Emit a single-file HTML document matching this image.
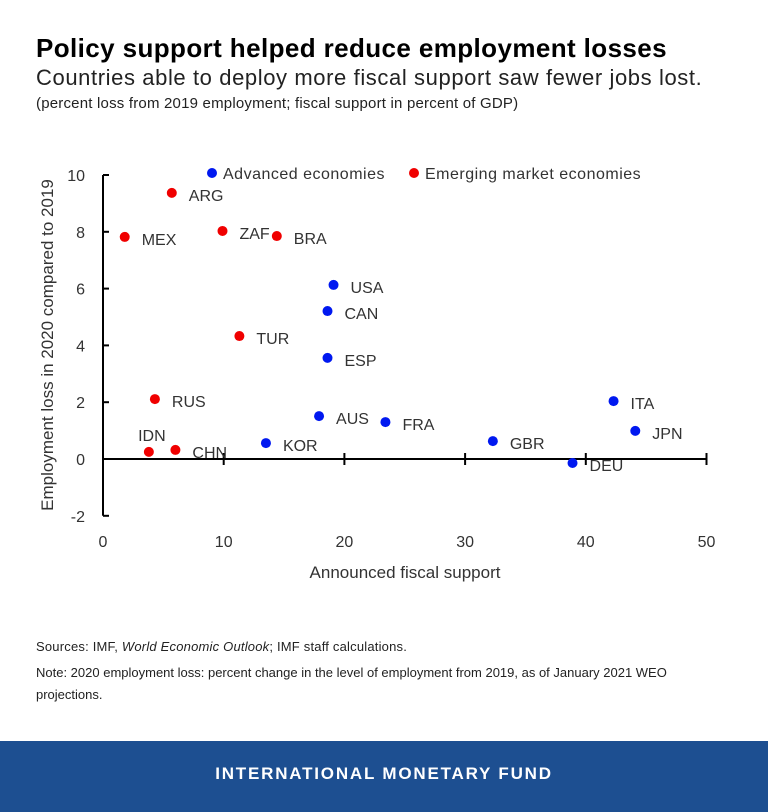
<!DOCTYPE html>
<html><head><meta charset="utf-8"><style>
body{margin:0;width:768px;height:812px;background:#fff;font-family:"Liberation Sans",sans-serif;position:relative;overflow:hidden}
.t{position:absolute;left:36px;white-space:nowrap}
</style></head><body>
<div class="t" style="top:33px;font-size:26px;font-weight:bold;color:#000;letter-spacing:0.4px">Policy support helped reduce employment losses</div>
<div class="t" style="top:65px;font-size:22px;color:#222;letter-spacing:0.6px">Countries able to deploy more fiscal support saw fewer jobs lost.</div>
<div class="t" style="top:95px;font-size:15px;color:#222;letter-spacing:0.2px">(percent loss from 2019 employment; fiscal support in percent of GDP)</div>
<svg id="chart" width="768" height="600" style="position:absolute;left:0;top:0" font-family="Liberation Sans, DejaVu Sans, sans-serif"></svg>
<div class="t" style="top:639px;font-size:13px;color:#222;letter-spacing:0.2px">Sources: IMF, <i>World Economic Outlook</i>; IMF staff calculations.</div>
<div class="t" style="top:662px;font-size:13px;color:#222;white-space:normal;width:690px;line-height:22px">Note: 2020 employment loss: percent change in the level of employment from 2019, as of January 2021 WEO projections.</div>
<div style="position:absolute;left:0;top:741px;width:768px;height:71px;background:#1d4f91;color:#fff;text-align:center;line-height:66px;font-size:17px;font-weight:bold;letter-spacing:1.8px">INTERNATIONAL MONETARY FUND</div>
<script>
const countries=["ARG","MEX","ZAF","BRA","USA","CAN","TUR","ESP","RUS","AUS","FRA","ITA","JPN","IDN","CHN","KOR","GBR","DEU"];
const fiscal=[5.7,1.8,9.9,14.4,19.1,18.6,11.3,18.6,4.3,17.9,23.4,42.3,44.1,3.8,6.0,13.5,32.3,38.9];
const loss=[9.37,7.82,8.03,7.85,6.13,5.21,4.33,3.56,2.11,1.51,1.30,2.04,0.99,0.25,0.32,0.56,0.63,-0.14];
const group=["EM","EM","EM","EM","AE","AE","EM","AE","EM","AE","AE","AE","AE","EM","EM","AE","AE","AE"];
const xTicks=[0,10,20,30,40,50];
const yTicks=[10,8,6,4,2,0,-2];
const svg=document.getElementById('chart');const NS="http://www.w3.org/2000/svg";
const X=v=>103+v*12.07, Y=v=>459-v*28.4;
function el(t,a,p){const e=document.createElementNS(NS,t);for(const k in a)e.setAttribute(k,a[k]);(p||svg).appendChild(e);return e;}
let ya=el('line',{x1:103,x2:103,y1:Y(10),y2:Y(-2),stroke:'#000','stroke-width':2});

let xa=el('line',{x1:X(0),x2:X(50),y1:Y(0),y2:Y(0),stroke:'#000','stroke-width':2});

yTicks.forEach(v=>{el('line',{x1:103,x2:109,y1:Y(v),y2:Y(v),stroke:'#000','stroke-width':2});
 const t=el('text',{x:85,y:Y(v)+6,'text-anchor':'end','font-size':16,fill:'#333'});t.textContent=v;
 });
xTicks.forEach(v=>{if(v>0)el('line',{x1:X(v),x2:X(v),y1:Y(0)-6,y2:Y(0)+6,stroke:'#000','stroke-width':2});
 const t=el('text',{x:X(v),y:547,'text-anchor':'middle','font-size':16,fill:'#333'});t.textContent=v;
 });
let xt=el('text',{x:405,y:578,'text-anchor':'middle','font-size':17,fill:'#333'});xt.textContent='Announced fiscal support';

let yt=el('text',{x:0,y:0,'text-anchor':'middle','font-size':17,fill:'#333',transform:'translate(53,345) rotate(-90)'});yt.textContent='Employment loss in 2020 compared to 2019';

countries.forEach((c,i)=>{const col=group[i]=="AE"?'#0018f0':'#f00000';
 const d=el('circle',{cx:X(fiscal[i]),cy:Y(loss[i]),r:5,fill:col});
 
 let lx=X(fiscal[i])+17,ly=Y(loss[i])+8,anc='start';
 if(c=="IDN"){lx=X(fiscal[i])+3;ly=Y(loss[i])-11;anc='middle';}
 const t=el('text',{x:lx,y:ly,'text-anchor':anc,'font-size':16,fill:'#333'});t.textContent=c;
 });
const lg=[[212,'#0018f0','Advanced economies'],[414,'#f00000','Emerging market economies']];
lg.forEach(l=>{const c=el('circle',{cx:l[0],cy:173,r:5,fill:l[1]});
 const t=el('text',{x:l[0]+11,y:179,'font-size':16,fill:'#333','letter-spacing':0.5});t.textContent=l[2];
 });
</script>
</body></html>
